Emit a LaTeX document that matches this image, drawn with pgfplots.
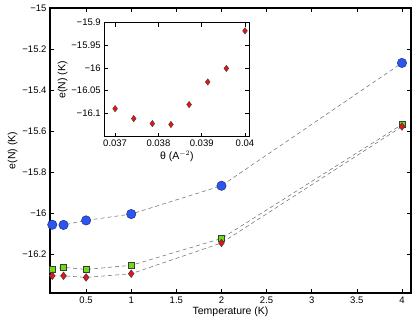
\documentclass[border=0pt]{standalone}
\usepackage{fontspec}
\setmainfont{Liberation Sans}
\usepackage{pgfplots}
\pgfplotsset{compat=1.18}

\definecolor{cblue}{RGB}{45,85,235}
\definecolor{cgreen}{RGB}{110,220,20}
\definecolor{cred}{RGB}{235,20,20}
\definecolor{cedge}{RGB}{60,60,60}

\pgfplotsset{
  matlab/.style={
    scale only axis,
    tick align=inside,
    major tick length=4pt,
    axis line style={line width=1.2pt},
    every tick/.style={black, line width=0.6pt},
    tick label style={font=\fontsize{9.5}{11}\selectfont},
    label style={font=\fontsize{10.5}{12}\selectfont},
    axis background/.style={fill=white},
  },
  dline/.style={black!55, line width=0.55pt, dash pattern=on 4pt off 3pt},
}

\begin{document}
\begin{tikzpicture}
\useasboundingbox (-50pt,-31pt) rectangle (365pt,293pt);

\begin{axis}[matlab,
  at={(0pt,0pt)}, anchor=south west,
  width=361pt, height=285pt,
  xmin=0.1, xmax=4.1, ymin=-16.39, ymax=-15,
  xtick={0.5,1,1.5,2,2.5,3,3.5,4},
  xticklabels={0.5,1,1.5,2,2.5,3,3.5,4},
  ytick={-16.2,-16,-15.8,-15.6,-15.4,-15.2,-15},
  yticklabels={−16.2,−16,−15.8,−15.6,−15.4,−15.2,−15},
  xlabel={Temperature (K)},
  ylabel={e(N) (K)},
  ylabel style={yshift=-2pt},
  xlabel style={yshift=3pt},
]
  % blue circles
  \addplot[dline, mark=*, mark size=4.7pt,
    mark options={solid, fill=cblue, draw=cblue!60!black, line width=0.5pt}]
    coordinates {(0.125,-16.057)(0.25,-16.058)(0.5,-16.036)(1,-16.005)(2,-15.867)(4,-15.268)};
  % green squares
  \addplot[dline, mark=square*, mark size=3pt,
    mark options={solid, fill=cgreen, draw=cedge, line width=0.5pt}]
    coordinates {(0.125,-16.273)(0.25,-16.265)(0.5,-16.275)(1,-16.255)(2,-16.124)(4,-15.568)};
  % red diamonds
  \addplot[dline, mark=diamond*, mark size=3.8pt,
    mark options={solid, fill=cred, draw=cedge, line width=0.5pt}]
    coordinates {(0.125,-16.306)(0.25,-16.306)(0.5,-16.314)(1,-16.296)(2,-16.146)(4,-15.578)};
  \draw[line width=1.2pt] (rel axis cs:0,0) rectangle (rel axis cs:1,1);
\end{axis}

\begin{axis}[matlab,
  at={(54.3pt,156.3pt)}, anchor=south west,
  width=145pt, height=114pt,
  xmin=0.03675, xmax=0.0401, ymin=-16.152, ymax=-15.9,
  xtick={0.037,0.038,0.039,0.04},
  xticklabels={0.037,0.038,0.039,0.04},
  ytick={-16.1,-16.05,-16,-15.95,-15.9},
  yticklabels={−16.1,−16.05,−16,−15.95,−15.9},
  scaled x ticks=false,
  xlabel={θ (A$^{-2}$)},
  ylabel={e(N) (K)},
  ylabel style={yshift=-3pt},
  xlabel style={yshift=3pt},
]
  \addplot[only marks, mark=diamond*, mark size=3.2pt,
    mark options={fill=cred, draw=cedge, line width=0.4pt}]
    coordinates {(0.03700,-16.090)(0.03743,-16.112)(0.03786,-16.123)(0.03829,-16.125)
                 (0.03871,-16.081)(0.03914,-16.031)(0.03957,-16.001)(0.04000,-15.918)};
  \draw[line width=1.2pt] (rel axis cs:0,0) rectangle (rel axis cs:1,1);
\end{axis}
\end{tikzpicture}
\end{document}
